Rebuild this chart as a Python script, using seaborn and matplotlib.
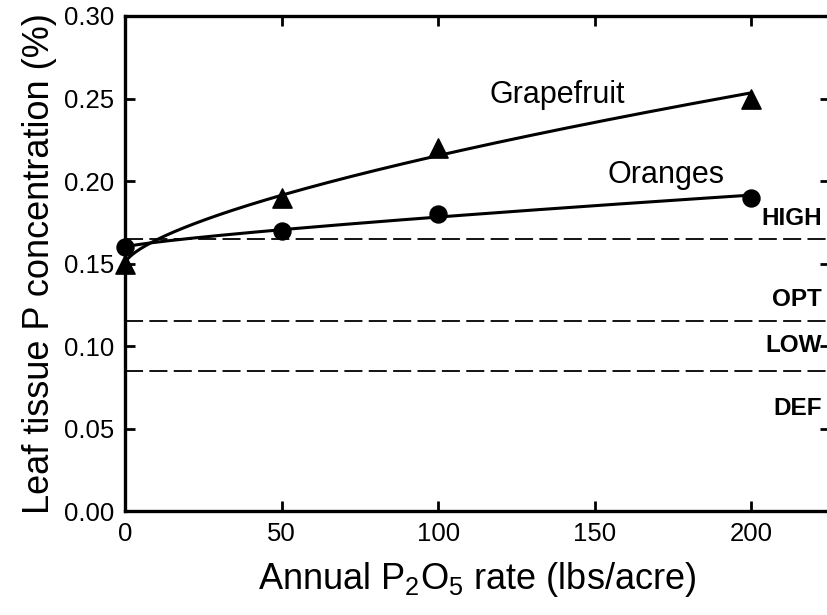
import numpy as np
import pandas as pd
import matplotlib
matplotlib.use('Agg')
import matplotlib.pyplot as plt
import seaborn as sns

# data
rates = [0, 50, 100, 200]
grapefruit = [0.15, 0.19, 0.22, 0.25]
oranges = [0.16, 0.17, 0.18, 0.19]

# sufficiency ranges (leaf P, %)
thresholds = [0.165, 0.115, 0.085]
range_labels = ['HIGH', 'OPT', 'LOW', 'DEF']
range_label_y = [0.1775, 0.128, 0.1005, 0.062]


def power_fit(x, y, grid):
    # y = y0 + b * x**c, anchored at the zero-rate value, fitted in log space
    x = np.asarray(x, float)
    y = np.asarray(y, float)
    y0 = y[x == 0][0]
    m = x > 0
    c, lnb = np.polyfit(np.log(x[m]), np.log(y[m] - y0), 1)
    return y0 + np.exp(lnb) * grid ** c


sns.set_style('ticks')
plt.rcParams['font.family'] = ['Liberation Sans', 'DejaVu Sans']
plt.rcParams['mathtext.default'] = 'regular'
plt.rcParams['text.color'] = 'black'
plt.rcParams['axes.labelcolor'] = 'black'
plt.rcParams['xtick.color'] = 'black'
plt.rcParams['ytick.color'] = 'black'
plt.rcParams['axes.edgecolor'] = 'black'

fig = plt.figure(figsize=(8.28, 6.15), dpi=100)
ax = fig.add_axes([0.151, 0.169, 0.851, 0.805])

grid = np.linspace(0, 200, 400)
fits = pd.DataFrame({
    'rate': np.concatenate([grid, grid]),
    'P': np.concatenate([power_fit(rates, grapefruit, grid), power_fit(rates, oranges, grid)]),
    'crop': ['Grapefruit'] * len(grid) + ['Oranges'] * len(grid),
})
pts = pd.DataFrame({
    'rate': rates + rates,
    'P': grapefruit + oranges,
    'crop': ['Grapefruit'] * 4 + ['Oranges'] * 4,
})

sns.lineplot(data=fits, x='rate', y='P', hue='crop', palette=['black', 'black'],
             lw=2.2, legend=False, ax=ax)
sns.scatterplot(data=pts[pts.crop == 'Grapefruit'], x='rate', y='P', marker='^',
                color='black', s=190, edgecolor='black', legend=False, ax=ax, zorder=5, clip_on=False)
sns.scatterplot(data=pts[pts.crop == 'Oranges'], x='rate', y='P', marker='o',
                color='black', s=150, edgecolor='black', legend=False, ax=ax, zorder=5, clip_on=False)

for t in thresholds:
    ax.axhline(t, color='black', lw=1.3, dashes=(10, 3.5))

for lab, yy in zip(range_labels, range_label_y):
    ax.text(222.5, yy, lab, ha='right', va='center', fontsize=17.5, fontweight='bold')

ax.text(116.5, 0.2473, 'Grapefruit', fontsize=22, va='baseline')
ax.text(154, 0.1985, 'Oranges', fontsize=22, va='baseline')

ax.set_xlim(0, 225)
ax.set_ylim(0, 0.30)
ax.set_xticks([0, 50, 100, 150, 200])
ax.set_yticks(np.arange(0, 0.301, 0.05))
ax.set_yticklabels([f'{v:.2f}' for v in np.arange(0, 0.301, 0.05)])
ax.tick_params(direction='in', length=7, width=2, labelsize=18.5, pad=8,
               top=True, right=True)
for sp in ax.spines.values():
    sp.set_linewidth(2.4)

ax.set_xlabel('Annual P$_2$O$_5$ rate (lbs/acre)', fontsize=26, labelpad=10)
ax.set_ylabel('Leaf tissue P concentration (%)', fontsize=26, labelpad=5)

fig.savefig('out.png', dpi=100)
